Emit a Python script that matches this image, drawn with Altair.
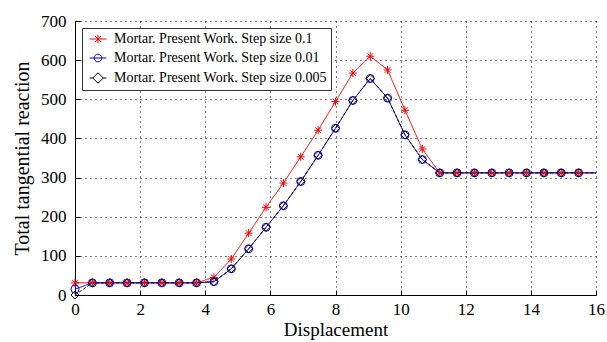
import altair as alt
import pandas as pd

# Sampled displacement positions (last sample at 16 carries the line only, no marker)
disp = [0.0, 0.533, 1.067, 1.6, 2.133, 2.667, 3.2, 3.733, 4.267, 4.8,
        5.333, 5.867, 6.4, 6.933, 7.467, 8.0, 8.533, 9.067, 9.6, 10.133,
        10.667, 11.2, 11.733, 12.267, 12.8, 13.333, 13.867, 14.4, 14.933, 15.467,
        16.0]

react_01 = [31, 31, 31, 31, 31, 31, 31, 31, 45, 92,
            158, 224, 286, 353, 421, 494, 567, 610, 575, 472,
            373, 312, 312, 312, 312, 312, 312, 312, 312, 312,
            312]
react_001 = [15, 31, 31, 31, 31, 31, 31, 31, 34, 67,
             118, 173, 228, 290, 357, 426, 497, 553, 503, 409,
             346, 312, 312, 312, 312, 312, 312, 312, 312, 312,
             312]
react_0005 = [0, 31, 31, 31, 31, 31, 31, 31, 34, 67,
              118, 173, 228, 290, 357, 426, 497, 553, 503, 409,
              346, 312, 312, 312, 312, 312, 312, 312, 312, 312,
              312]

series_names = ["Mortar. Present Work. Step size 0.1",
                "Mortar. Present Work. Step size 0.01",
                "Mortar. Present Work. Step size 0.005"]
series_colors = ["#ff0000", "#0000ff", "#000000"]
series_dash = [[1, 0], [1, 0], [3, 2]]
n_marked = 30

x_ticks = [0, 2, 4, 6, 8, 10, 12, 14, 16]
y_ticks = [0, 100, 200, 300, 400, 500, 600, 700]

FONT = "Liberation Serif"

rows = []
for name, vals in zip(series_names, [react_01, react_001, react_0005]):
    for i, (d, v) in enumerate(zip(disp, vals)):
        rows.append({"series": name, "disp": d, "reaction": v,
                     "marked": i < n_marked, "idx": i})
df = pd.DataFrame(rows)

x_scale = alt.Scale(domain=[0, 16], nice=False, zero=False)
y_scale = alt.Scale(domain=[0, 700], nice=False)

W, H = 521, 274

main_x_axis = alt.Axis(values=x_ticks, title="Displacement", grid=True,
                       gridDash=[1, 4], gridColor="black", gridOpacity=1,
                       domainColor="black", domainWidth=1, ticks=False,
                       labelPadding=6, titlePadding=3, labelFlush=False,
                       labelFontSize=17, titleFontSize=19)
main_y_axis = alt.Axis(values=y_ticks, title="Total tangential reaction", grid=True,
                       gridDash=[1, 4], gridColor="black", gridOpacity=1,
                       domainColor="black", domainWidth=1, ticks=False,
                       labelPadding=9, titlePadding=8, labelFlush=False,
                       labelFontSize=17, titleFontSize=20)

base = alt.Chart(df)

lines = base.mark_line(strokeWidth=1).encode(
    x=alt.X("disp:Q", scale=x_scale, axis=main_x_axis),
    y=alt.Y("reaction:Q", scale=y_scale, axis=main_y_axis),
    color=alt.Color("series:N", scale=alt.Scale(domain=series_names, range=series_colors), legend=None),
    strokeDash=alt.StrokeDash("series:N", scale=alt.Scale(domain=series_names, range=series_dash), legend=None),
    order="idx:Q",
)

star = "M-1,0L1,0M0,-1L0,1M-0.7,-0.7L0.7,0.7M-0.7,0.7L0.7,-0.7"

markers = base.transform_filter("datum.marked").mark_point(filled=False, strokeWidth=1, opacity=1).encode(
    x=alt.X("disp:Q", scale=x_scale, axis=None),
    y=alt.Y("reaction:Q", scale=y_scale, axis=None),
    color=alt.Color("series:N", scale=alt.Scale(domain=series_names, range=series_colors), legend=None),
    shape=alt.Shape("series:N", scale=alt.Scale(domain=series_names, range=[star, "circle", "diamond"]), legend=None),
    size=alt.Size("series:N", scale=alt.Scale(domain=series_names, range=[64, 64, 150]), legend=None),
)

# legend symbols: sample line with the marker on top
leg_star = "M-2.4,0L2.4,0M0,-1.2L0,1.2M-0.85,-0.85L0.85,0.85M-0.85,0.85L0.85,-0.85"
leg_circle = "M-2.4,0L2.4,0M1.1,0A1.1,1.1,0,1,1,-1.1,0A1.1,1.1,0,1,1,1.1,0"
leg_diamond = "M-2.4,0L-1.5,0M1.5,0L2.4,0M-1.5,0L0,-1.5L1.5,0L0,1.5Z"

legend_spec = alt.Legend(orient="none", legendX=7, legendY=7, title=None,
                         strokeColor="#333333", fillColor="white", padding=4,
                         labelFont=FONT, labelFontSize=14, labelColor="black",
                         labelLimit=0, symbolSize=49, symbolStrokeWidth=1,
                         symbolOffset=5, labelOffset=9, rowPadding=5)

legend_layer = base.transform_filter("datum.idx == 0").mark_point(filled=False, opacity=0).encode(
    x=alt.X("disp:Q", scale=x_scale, axis=None),
    y=alt.Y("reaction:Q", scale=y_scale, axis=None),
    color=alt.Color("series:N", scale=alt.Scale(domain=series_names, range=series_colors), legend=legend_spec),
    shape=alt.Shape("series:N", scale=alt.Scale(domain=series_names, range=[leg_star, leg_circle, leg_diamond]), legend=legend_spec),
)

# inward-pointing ticks along the bottom and left edges
tick_layer = base.transform_filter("datum.idx == 0").mark_point(opacity=0).encode(
    x=alt.X("disp:Q", scale=x_scale,
            axis=alt.Axis(orient="top", offset=-H, values=x_ticks, labels=False, domain=False,
                          grid=False, ticks=True, tickSize=5, tickColor="black", title=None)),
    y=alt.Y("reaction:Q", scale=y_scale,
            axis=alt.Axis(orient="right", offset=-W, values=y_ticks, labels=False, domain=False,
                          grid=False, ticks=True, tickSize=5, tickColor="black", title=None)),
)

chart = alt.layer(lines, markers, legend_layer, tick_layer).resolve_scale(
    color="independent", shape="independent"
).resolve_axis(
    x="independent", y="independent"
).properties(
    width=W, height=H,
    padding={"left": 75, "top": 21, "right": 11, "bottom": 47},
    autosize=alt.AutoSizeParams(type="none"),
    background="white",
).configure_view(
    stroke=None
).configure_axis(
    labelFont=FONT, titleFont=FONT, labelColor="black", titleColor="black",
    titleFontWeight="normal"
)

chart.save("out.html", embed_options={"renderer": "svg", "actions": False})
